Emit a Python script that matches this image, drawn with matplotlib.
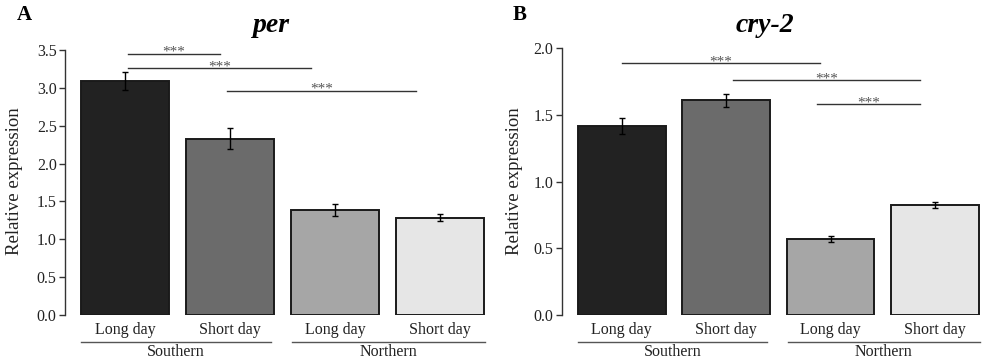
import numpy as np
import matplotlib
matplotlib.use("Agg")
import matplotlib.pyplot as plt
from matplotlib.transforms import blended_transform_factory

plt.rcParams['font.family'] = ['Liberation Serif', 'DejaVu Serif']

conditions = ["Long day", "Short day", "Long day", "Short day"]
groups = ["Southern", "Northern"]
bar_colors = ["#222222", "#6b6b6b", "#a6a6a6", "#e6e6e6"]

per_values = [3.09, 2.33, 1.39, 1.285]
per_errors = [0.12, 0.14, 0.08, 0.05]
cry2_values = [1.415, 1.61, 0.57, 0.825]
cry2_errors = [0.06, 0.05, 0.025, 0.02]

# significance brackets: (x_start, x_end, y)
per_sig = [(0.03, 0.90, 3.45), (0.03, 1.77, 3.26), (0.97, 2.77, 2.96)]
cry2_sig = [(0.0, 1.90, 1.89), (1.07, 2.86, 1.76), (1.87, 2.86, 1.58)]

W, H = 983, 362
fig = plt.figure(figsize=(W / 100, H / 100), dpi=100)


def px_axes(left, right, top, bottom):
    return fig.add_axes([left / W, (H - bottom) / H, (right - left) / W, (bottom - top) / H])


def draw(ax, values, errors, sig, ylim, yticks, title, title_x, letter, letter_x, ylabel_x):
    x = np.arange(len(values))
    ax.bar(x, values, width=0.84, color=bar_colors, edgecolor="#1a1a1a", linewidth=1.4, zorder=2)
    ax.errorbar(x, values, yerr=errors, fmt="none", ecolor="black", elinewidth=1.0,
                capsize=2, capthick=1.0, zorder=3)
    ax.set_xlim(-0.575, 3.45)
    ax.set_ylim(*ylim)
    ax.set_yticks(yticks)
    ax.set_yticklabels([f"{t:.1f}" for t in yticks])
    ax.set_xticks(x)
    ax.set_xticklabels(conditions)
    for s in ["top", "right", "bottom"]:
        ax.spines[s].set_visible(False)
    ax.spines["left"].set_color("#333333")
    ax.spines["left"].set_linewidth(1.0)
    ax.tick_params(axis="y", direction="out", length=4, width=1.0, color="#333333",
                   labelsize=11.5, labelcolor="#222222", pad=2)
    ax.tick_params(axis="x", length=0, labelsize=11.5, labelcolor="#222222", pad=5)
    ax.set_ylabel("Relative expression", fontsize=13.5, color="#222222")
    ax.yaxis.set_label_coords(ylabel_x, 0.5, transform=fig.transFigure)

    for x1, x2, y in sig:
        ax.plot([x1, x2], [y, y], color="#333333", lw=1.0, clip_on=False, zorder=4)
        ax.annotate("***", xy=((x1 + x2) / 2, y), xytext=(0, -1.5), textcoords="offset points",
                    ha="center", va="baseline", fontsize=11, color="#555555", annotation_clip=False)

    tr = blended_transform_factory(ax.transData, fig.transFigure)
    for (a, b), g in zip([(-0.42, 1.39), (1.59, 3.43)], groups):
        ax.plot([a, b], [(H - 342) / H, (H - 342) / H], transform=tr, color="#555555",
                lw=1.0, clip_on=False)
        ax.text((a + b) / 2, (H - 352) / H, g, transform=tr, ha="center", va="center",
                fontsize=11.5, color="#222222")

    fig.text(title_x / W, (H - 25) / H, title, ha="center", va="center",
             fontsize=20, fontweight="bold", fontstyle="italic")
    fig.text(letter_x / W, (H - 15) / H, letter, ha="center", va="center",
             fontsize=15, fontweight="bold")


ax1 = px_axes(65, 487, 50, 315)
draw(ax1, per_values, per_errors, per_sig, (0, 3.5), np.arange(0, 3.51, 0.5),
     "per", 271, "A", 24, 23 / W)

ax2 = px_axes(561.7, 982, 48.3, 315)
draw(ax2, cry2_values, cry2_errors, cry2_sig, (0, 2.0), np.arange(0, 2.01, 0.5),
     "cry-2", 765, "B", 520, 523 / W)

fig.savefig("out.png", dpi=100)
